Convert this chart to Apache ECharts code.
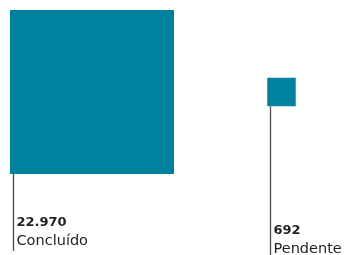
<!DOCTYPE html>
<html>
<head>
<meta charset="utf-8">
<script src="https://cdn.jsdelivr.net/npm/echarts@6/dist/echarts.min.js"></script>
<style>
  html, body { margin: 0; padding: 0; background: #ffffff; }
  #chart { width: 344px; height: 255px; }
</style>
</head>
<body>
<div id="chart"></div>
<script>
const categories = ["Concluído", "Pendente"];
const values = [22970, 692];

// layout for the annotation under each square
const labelTop = [216, 224.5];
const stemBottom = [251, 255];
const maxSide = 164;

const maxValue = Math.max(...values);

function fmt(v) {
  return String(v).replace(/\B(?=(\d{3})+(?!\d))/g, ".");
}

const chart = echarts.init(document.getElementById("chart"), null, { renderer: "canvas" });

chart.setOption({
  animation: false,
  grid: { left: 92, right: 62.5, top: 10, bottom: 81 },
  xAxis: { type: "category", data: categories, boundaryGap: false, show: false },
  yAxis: { type: "value", min: -1, max: 1, show: false },
  series: [
    {
      type: "custom",
      data: values.map((v, i) => [i, v]),
      renderItem: (params, api) => {
        const i = api.value(0);
        const v = api.value(1);
        const c = api.coord([i, 0]);
        const side = maxSide * Math.sqrt(v / maxValue);
        const x0 = c[0] - side / 2;
        const y0 = c[1] - side / 2;
        const lineX = Math.round(x0 + 3) + 0.5;
        return {
          type: "group",
          children: [
            {
              type: "rect",
              shape: { x: x0, y: y0, width: side, height: side },
              style: { fill: "#00829e" },
            },
            {
              type: "line",
              shape: { x1: lineX, y1: y0 + side, x2: lineX, y2: stemBottom[i] },
              style: { stroke: "#4d4d4d", lineWidth: 1.3 },
            },
            {
              type: "text",
              x: lineX + 3,
              y: labelTop[i],
              style: {
                text: fmt(v),
                fill: "#231f20",
                font: "bold 13px 'DejaVu Sans'",
                verticalAlign: "top",
              },
            },
            {
              type: "text",
              x: lineX + 3,
              y: labelTop[i] + 17.5,
              style: {
                text: categories[i],
                fill: "#231f20",
                font: "14.5px 'DejaVu Sans'",
                verticalAlign: "top",
              },
            },
          ],
        };
      },
    },
  ],
});

window.addEventListener("resize", () => {
  chart && chart.resize();
});
</script>
</body>
</html>
